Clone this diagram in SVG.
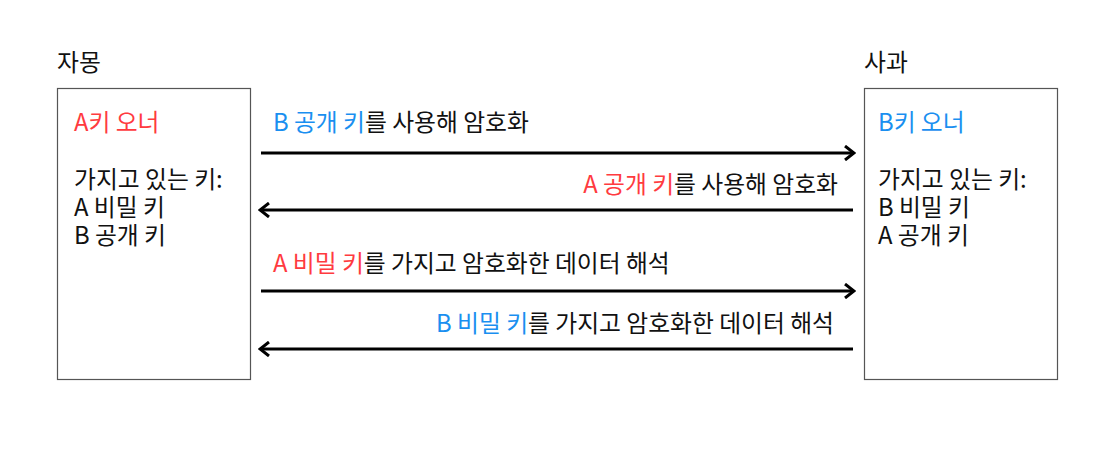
<svg xmlns="http://www.w3.org/2000/svg" width="1107" height="465" viewBox="0 0 1107 465">
<style>
text{font-family:"Noto Sans CJK KR","Noto Sans",sans-serif;font-size:23.8px;fill:#111}
.r{fill:#ff3b3f}
.b{fill:#1a8ff0}
.box{fill:#fff;stroke:#555;stroke-width:1.2}
.ar{stroke:#000;stroke-width:3;fill:none}
</style>
<defs>
<marker id="h" viewBox="0 0 12 16" refX="10" refY="8" markerWidth="12" markerHeight="16" markerUnits="userSpaceOnUse" orient="auto-start-reverse">
<path d="M1,1 L10,8 L1,15" fill="none" stroke="#000" stroke-width="3"/>
</marker>
</defs>
<rect width="1107" height="465" fill="#fff"/>
<g id="node-a">
<text x="57" y="71">자몽</text>
<rect class="box" x="57.5" y="88.5" width="193" height="291"/>
<text x="74" y="131" class="r">A키 오너</text>
<text x="74" y="188">가지고 있는 키:<tspan x="74" dy="28">A 비밀 키</tspan><tspan x="74" dy="28">B 공개 키</tspan></text>
</g>
<g id="node-b">
<text x="864" y="71">사과</text>
<rect class="box" x="864.5" y="88.5" width="193" height="291"/>
<text x="878" y="131" class="b">B키 오너</text>
<text x="878" y="188">가지고 있는 키:<tspan x="878" dy="28">B 비밀 키</tspan><tspan x="878" dy="28">A 공개 키</tspan></text>
</g>
<g id="connectors">
<line class="ar" x1="261" y1="153" x2="854" y2="153" marker-end="url(#h)"/>
<line class="ar" x1="853" y1="210" x2="260" y2="210" marker-end="url(#h)"/>
<line class="ar" x1="261" y1="291" x2="854" y2="291" marker-end="url(#h)"/>
<line class="ar" x1="853" y1="349" x2="260" y2="349" marker-end="url(#h)"/>
<text x="273" y="131"><tspan class="b">B 공개 키</tspan>를 사용해 암호화</text>
<text x="838" y="193" text-anchor="end"><tspan class="r">A 공개 키</tspan>를 사용해 암호화</text>
<text x="273" y="272"><tspan class="r">A 비밀 키</tspan>를 가지고 암호화한 데이터 해석</text>
<text x="834" y="332" text-anchor="end"><tspan class="b">B 비밀 키</tspan>를 가지고 암호화한 데이터 해석</text>
</g>
</svg>
